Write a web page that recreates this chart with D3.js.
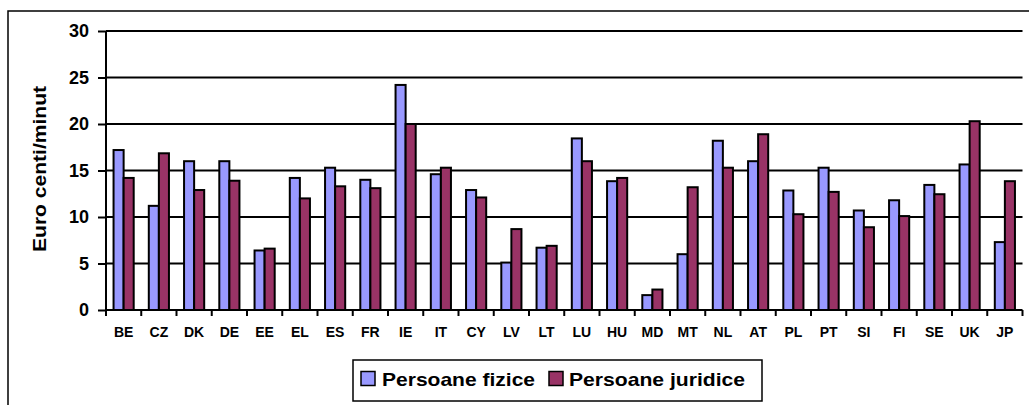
<!DOCTYPE html>
<html>
<head>
<meta charset="utf-8">
<script src="https://cdn.jsdelivr.net/npm/d3@7"></script>
<style>
  html, body { margin: 0; padding: 0; background: #fff; }
  svg { display: block; }
  text { font-family: "Liberation Sans", Arial, sans-serif; font-weight: bold; fill: #000; }
</style>
</head>
<body>
<svg id="chart" width="1029" height="405"></svg>
<script>
const categories = ["BE","CZ","DK","DE","EE","EL","ES","FR","IE","IT","CY","LV","LT","LU","HU","MD","MT","NL","AT","PL","PT","SI","FI","SE","UK","JP"];
const seriesNames = ["Persoane fizice", "Persoane juridice"];
const fizice   = [17.2, 11.2, 16.0, 16.0, 6.4, 14.2, 15.3, 14.0, 24.2, 14.6, 12.9, 5.1, 6.7, 18.45, 13.85, 1.6, 6.0, 18.2, 16.0, 12.85, 15.3, 10.7, 11.8, 13.45, 15.65, 7.3];
const juridice = [14.2, 16.85, 12.9, 13.9, 6.6, 12.0, 13.3, 13.1, 20.0, 15.3, 12.1, 8.7, 6.9, 16.0, 14.2, 2.2, 13.2, 15.3, 18.9, 10.3, 12.7, 8.9, 10.1, 12.45, 20.3, 13.85];
const yTicks = [0, 5, 10, 15, 20, 25, 30];
const colors = ["#9999FF", "#993366"];
const yTitle = "Euro centi/minut";

(function () {
const svg = d3.select("#chart");

// outer frame
svg.append("rect").attr("x", 8).attr("y", 11).attr("width", 1040).attr("height", 420)
  .attr("fill", "none").attr("stroke", "#000").attr("stroke-width", 1.5);

const pL = 106, pR = 1022.5, pT = 31, pB = 310;
const x0 = d3.scaleBand().domain(categories).range([pL, pR]).paddingInner(1.5/3.5).paddingOuter(0.75/3.5);
const x1 = d3.scaleBand().domain(seriesNames).range([0, x0.bandwidth()]);
const y = d3.scaleLinear().domain([0, 30]).range([pB, pT]);

// gridlines
svg.append("g").selectAll("line").data(yTicks.filter(t => t > 0)).join("line")
  .attr("x1", pL).attr("x2", pR)
  .attr("y1", d => y(d)).attr("y2", d => y(d))
  .attr("stroke", "#000").attr("stroke-width", 2);

// bars
const data = categories.map((c, i) => ({ c, vals: [fizice[i], juridice[i]] }));
const groups = svg.append("g").selectAll("g").data(data).join("g")
  .attr("transform", d => `translate(${x0(d.c)},0)`);
groups.selectAll("rect").data(d => d.vals.map((v, j) => ({ v, s: seriesNames[j], j }))).join("rect")
  .attr("x", d => x1(d.s))
  .attr("width", x1.bandwidth())
  .attr("y", d => y(d.v))
  .attr("height", d => y(0) - y(d.v))
  .attr("fill", d => colors[d.j])
  .attr("stroke", "#000").attr("stroke-width", 2);

// y axis
const yAxis = d3.axisLeft(y).tickValues(yTicks).tickSize(8).tickPadding(9).tickFormat(d3.format("d"));
const gy = svg.append("g").attr("transform", `translate(${pL},0)`).call(yAxis);
gy.select(".domain").attr("stroke", "#000").attr("stroke-width", 2).attr("d", `M0,${pB}V${pT}`);
gy.selectAll(".tick line").attr("stroke", "#000").attr("stroke-width", 2);
gy.selectAll(".tick text").style("font-size", "18px").style("font-family", "'Liberation Sans', Arial, sans-serif").style("font-weight", "bold").attr("fill", "#000");

// x axis
const xTickPos = d3.scaleLinear().domain([0, categories.length]).range([pL, pR]);
const gx = svg.append("g");
gx.append("line").attr("x1", pL).attr("x2", pR).attr("y1", pB).attr("y2", pB)
  .attr("stroke", "#000").attr("stroke-width", 2);
gx.selectAll("line.tk").data(d3.range(categories.length + 1)).join("line").attr("class", "tk")
  .attr("x1", d => xTickPos(d)).attr("x2", d => xTickPos(d))
  .attr("y1", pB).attr("y2", pB + 6)
  .attr("stroke", "#000").attr("stroke-width", 2);
gx.selectAll("text").data(categories).join("text")
  .attr("x", d => x0(d) + x0.bandwidth() / 2)
  .attr("y", 337)
  .attr("text-anchor", "middle")
  .style("font-size", "14px")
  .text(d => d);

// y title
svg.append("text")
  .attr("transform", "translate(46,169) rotate(-90)")
  .attr("text-anchor", "middle")
  .attr("textLength", 166).attr("lengthAdjust", "spacingAndGlyphs")
  .style("font-size", "18px")
  .text(yTitle);

// legend
const lg = svg.append("g");
lg.append("rect").attr("x", 353).attr("y", 360).attr("width", 409).attr("height", 41)
  .attr("fill", "#fff").attr("stroke", "#000").attr("stroke-width", 1.5);
const legendItems = [
  { name: seriesNames[0], sx: 361, tx: 382, w: 153 },
  { name: seriesNames[1], sx: 549, tx: 569, w: 176 }
];
legendItems.forEach((it, i) => {
  lg.append("rect").attr("x", it.sx).attr("y", 371.5).attr("width", 14).attr("height", 14)
    .attr("fill", colors[i]).attr("stroke", "#000").attr("stroke-width", 1.5);
  lg.append("text").attr("x", it.tx).attr("y", 386)
    .attr("textLength", it.w).attr("lengthAdjust", "spacingAndGlyphs")
    .style("font-size", "18.5px").text(it.name);
});
})();
</script>
</body>
</html>
